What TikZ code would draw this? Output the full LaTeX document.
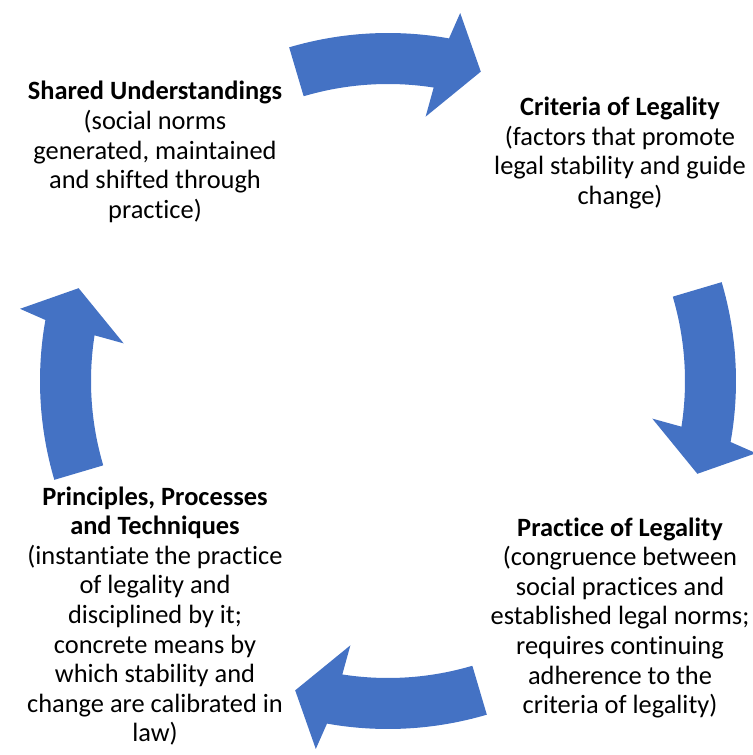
\documentclass[tikz,border=0pt]{standalone}
\usepackage{fontspec}
\setmainfont{Carlito}[Ligatures=NoCommon]
\usepackage{xcolor}
\usepackage{tikz}
\definecolor{cycleblue}{HTML}{4472C4}
\def\cyclearrow#1{\fill[arrowfill] ({#1+16.5}:348) arc[start angle=#1+16.5,end angle=#1-10.1,radius=348] -- ({#1-11.1}:375) -- ({#1-16.7}:323) -- ({#1-8.1}:267) -- ({#1-8.85}:297) arc[start angle=#1-8.85,end angle=#1+16.5,radius=297] -- cycle}
\tikzstyle{arrowfill}=[fill=cycleblue]
\tikzstyle{stage}=[align=center,inner sep=0pt,font=\fontsize{13.2}{14.8}\selectfont]

\begin{document}
\begin{tikzpicture}[x=0.5pt,y=0.5pt]
    \useasboundingbox (-388,-374) rectangle (364,381);
    \foreach \a in {90,0,270,180} {\cyclearrow{\a};}
    \node[stage] (shared) at (-233,229) {\textbf{Shared Understandings}\\(social norms\\generated, maintained\\and shifted through\\practice)};
    \node[stage] (criteria) at (232,228) {\textbf{Criteria of Legality}\\(factors that promote\\legal stability and guide\\change)};
    \node[stage] (practice) at (232,-237) {\textbf{Practice of Legality}\\(congruence between\\social practices and\\established legal norms;\\requires continuing\\adherence to the\\criteria of legality)};
    \node[stage] (principles) at (-233,-235) {\textbf{Principles, Processes}\\\textbf{and Techniques}\\(instantiate the practice\\of legality and\\disciplined by it;\\concrete means by\\which stability and\\change are calibrated in\\law)};
\end{tikzpicture}
\end{document}
